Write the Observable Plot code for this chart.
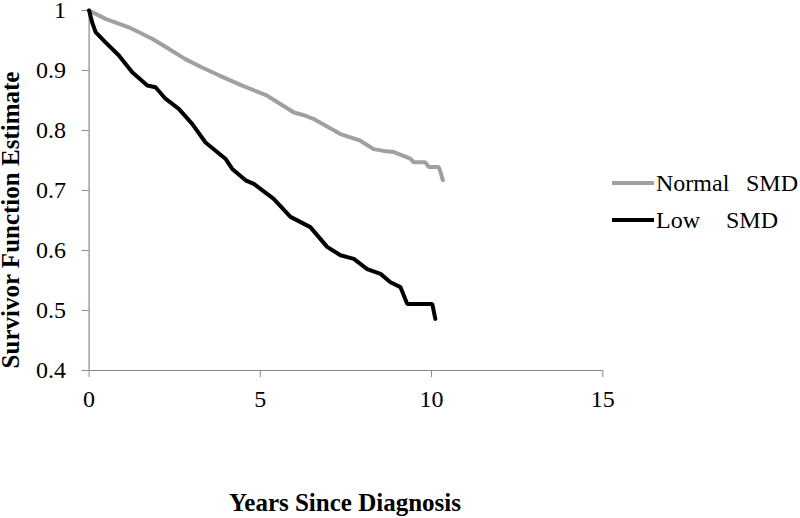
<!DOCTYPE html>
<html>
<head>
<meta charset="utf-8">
<script src="https://cdn.jsdelivr.net/npm/d3@7"></script>
<script src="https://cdn.jsdelivr.net/npm/@observablehq/plot@0.6"></script>
<style>
  body { margin: 0; background: #fff; }
  #wrap { position: relative; width: 800px; height: 518px; }
  #wrap svg text { font-family: "Liberation Serif", "DejaVu Serif", serif !important; }
  #legend { position: absolute; left: 0; top: 0; width: 800px; height: 518px; pointer-events: none; }
</style>
</head>
<body>
<div id="wrap"></div>
<script>
// Normal SMD survivor curve
const normalYears = [0, 0.48, 1.16, 1.84, 2.3, 2.81, 3.3, 3.79, 4.42, 5.2, 5.98, 6.3, 6.56, 7.34, 7.92, 8.31, 8.6, 8.9, 9.38, 9.48, 9.82, 9.92, 10.21, 10.26, 10.33];
const normalSurv  = [1, 0.986, 0.972, 0.953, 0.937, 0.919, 0.905, 0.892, 0.876, 0.858, 0.83, 0.825, 0.819, 0.794, 0.783, 0.769, 0.766, 0.764, 0.753, 0.747, 0.747, 0.739, 0.739, 0.731, 0.717];
// Low SMD survivor curve
const lowYears = [0, 0.09, 0.19, 0.48, 0.87, 1.26, 1.7, 1.94, 2.23, 2.62, 3.01, 3.4, 3.98, 4.18, 4.57, 4.81, 5.39, 5.88, 6.46, 6.95, 7.34, 7.73, 8.12, 8.51, 8.8, 9.09, 9.29, 10.02, 10.11];
const lowSurv  = [1, 0.98, 0.964, 0.947, 0.925, 0.897, 0.875, 0.872, 0.853, 0.836, 0.811, 0.78, 0.753, 0.736, 0.717, 0.711, 0.686, 0.656, 0.639, 0.606, 0.592, 0.586, 0.569, 0.561, 0.547, 0.539, 0.511, 0.511, 0.486];

const seriesNames = ["Normal   SMD", "Low   SMD"];
const seriesColors = ["#a0a0a0", "#000000"];
const xTicks = [0, 5, 10, 15];
const yTicks = [0.4, 0.5, 0.6, 0.7, 0.8, 0.9, 1];
const xTitle = "Years Since Diagnosis";
const yTitle = "Survivor Function Estimate";

const normal = normalYears.map((t, i) => ({t, s: normalSurv[i]}));
const low = lowYears.map((t, i) => ({t, s: lowSurv[i]}));

const W = 800, H = 518;
const mL = 88.6, mR = 197.7, mT = 10, mB = 148;
const serif = "'Liberation Serif', 'DejaVu Serif', serif";

const chart = Plot.plot({
  width: W,
  height: H,
  marginLeft: mL,
  marginRight: mR,
  marginTop: mT,
  marginBottom: mB,
  style: { fontFamily: serif, fontSize: "24px", color: "black", background: "white", overflow: "visible" },
  x: { domain: [0, 15] },
  y: { domain: [0.4, 1] },
  marks: [
    Plot.axisX({ ticks: xTicks, tickSize: 7, tickPadding: 12, stroke: "#888", fill: "black", fontSize: 24, label: null }),
    Plot.axisY({ ticks: yTicks, tickSize: 7, tickPadding: 16, stroke: "#888", fill: "black", fontSize: 24, label: null, tickFormat: d => String(d) }),
    Plot.ruleY([0.4], { stroke: "#888", strokeWidth: 1.2 }),
    Plot.ruleX([0], { stroke: "#888", strokeWidth: 1.2 }),
    Plot.line(normal, { x: "t", y: "s", stroke: seriesColors[0], strokeWidth: 4, strokeLinejoin: "miter" }),
    Plot.line(low, { x: "t", y: "s", stroke: seriesColors[1], strokeWidth: 4, strokeLinejoin: "miter" })
  ]
});

const wrap = document.getElementById("wrap");
wrap.appendChild(chart);

// Overlay: axis titles and legend
const ns = "http://www.w3.org/2000/svg";
const leg = document.createElementNS(ns, "svg");
leg.setAttribute("id", "legend");
leg.setAttribute("width", W);
leg.setAttribute("height", H);
function addText(str, attrs) {
  const t = document.createElementNS(ns, "text");
  t.setAttribute("font-family", serif);
  t.setAttribute("fill", "black");
  for (const k in attrs) t.setAttribute(k, attrs[k]);
  t.textContent = str;
  leg.appendChild(t);
  return t;
}
addText(xTitle, { x: 345, y: 511, "text-anchor": "middle", "font-size": 25, "font-weight": "bold" });
addText(yTitle, { transform: "translate(19,220) rotate(-90)", "text-anchor": "middle", "font-size": 25, "font-weight": "bold" });

const legY = [183, 220];
seriesNames.forEach((name, i) => {
  const ln = document.createElementNS(ns, "line");
  ln.setAttribute("x1", 612); ln.setAttribute("x2", 654);
  ln.setAttribute("y1", legY[i]); ln.setAttribute("y2", legY[i]);
  ln.setAttribute("stroke", seriesColors[i]);
  ln.setAttribute("stroke-width", 4);
  leg.appendChild(ln);
  const parts = name.split(/\s+/);
  addText(parts[0], { x: 656, y: legY[i] + 8, "font-size": 24 });
  addText(parts[1], { x: i === 0 ? 746 : 726, y: legY[i] + 8, "font-size": 24 });
});
wrap.appendChild(leg);
</script>
</body>
</html>
